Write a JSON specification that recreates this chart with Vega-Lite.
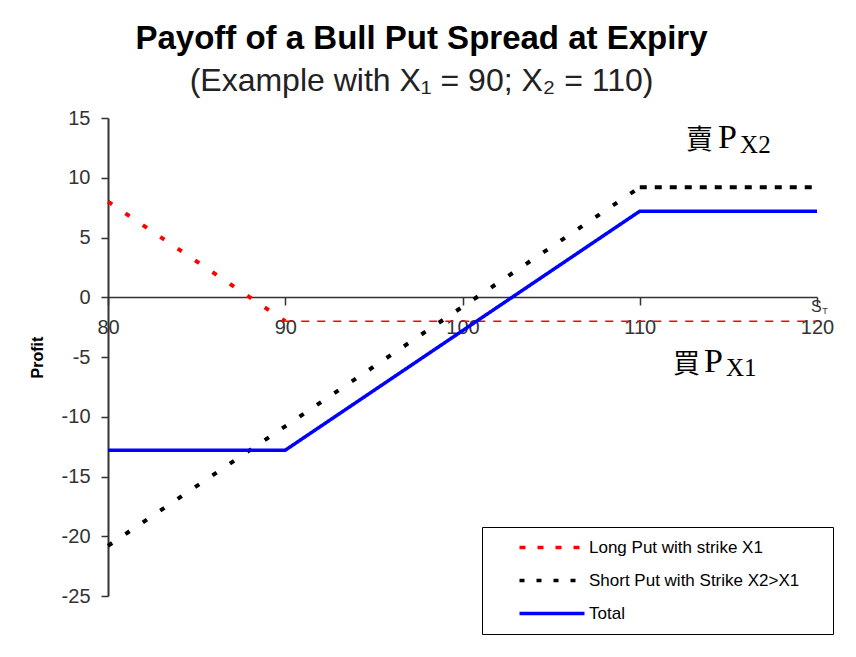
{
  "$schema": "https://vega.github.io/schema/vega-lite/v6.json",
  "autosize": {"type": "none"},
  "width": 709,
  "height": 478,
  "padding": {"left": 108, "top": 118, "right": 39, "bottom": 61},
  "background": "white",
  "config": {"view": {"stroke": null}},
  "title": {
    "text": "Payoff of a Bull Put Spread at Expiry",
    "subtitle": "(Example with X₁ = 90; X₂ = 110)",
    "anchor": "middle",
    "frame": "group",
    "dx": -41,
    "offset": 11,
    "font": "Liberation Sans",
    "fontSize": 33,
    "fontWeight": "bold",
    "color": "black",
    "subtitleFont": "Liberation Sans",
    "subtitleFontSize": 32,
    "subtitleColor": "#222",
    "subtitlePadding": 10
  },
  "data": {
    "values": [
      {"series": "Long Put with strike X1", "seg": "red1", "S": 80, "profit": 8},
      {"series": "Long Put with strike X1", "seg": "red1", "S": 90, "profit": -2},
      {"series": "Long Put with strike X1", "seg": "red2", "S": 90, "profit": -2},
      {"series": "Long Put with strike X1", "seg": "red2", "S": 120, "profit": -2},
      {"series": "Short Put with Strike X2>X1", "seg": "blk1", "S": 80, "profit": -20.8},
      {"series": "Short Put with Strike X2>X1", "seg": "blk1", "S": 110, "profit": 9.2},
      {"series": "Short Put with Strike X2>X1", "seg": "blk2", "S": 110, "profit": 9.2},
      {"series": "Short Put with Strike X2>X1", "seg": "blk2", "S": 120, "profit": 9.2},
      {"series": "Total", "seg": "tot", "S": 80, "profit": -12.8},
      {"series": "Total", "seg": "tot", "S": 90, "profit": -12.8},
      {"series": "Total", "seg": "tot", "S": 110, "profit": 7.2},
      {"series": "Total", "seg": "tot", "S": 120, "profit": 7.2}
    ]
  },
  "encoding": {
    "x": {
      "field": "S", "type": "quantitative",
      "scale": {"domain": [80, 120], "nice": false, "zero": false},
      "axis": {
        "title": null, "values": [80, 90, 100, 110, 120], "grid": false,
        "offset": -299, "domainColor": "#333", "domainWidth": 1.5,
        "tickColor": "#333", "tickWidth": 1.5, "tickSize": 8,
        "labelPadding": 12, "labelFont": "Liberation Sans", "labelFontSize": 20,
        "labelColor": "#333", "labelFlush": false
      }
    },
    "y": {
      "field": "profit", "type": "quantitative",
      "scale": {"domain": [-25, 15], "nice": false, "zero": false},
      "axis": {
        "title": "Profit", "values": [-25, -20, -15, -10, -5, 0, 5, 10, 15], "grid": false,
        "domainColor": "#333", "domainWidth": 2,
        "tickColor": "#333", "tickWidth": 1.5, "tickSize": 7,
        "labelPadding": 11, "labelFont": "Liberation Sans", "labelFontSize": 20,
        "labelColor": "#333",
        "labelExpr": "replace(datum.label, '−', '-')",
        "titleFont": "Liberation Sans", "titleFontSize": 16, "titleFontWeight": "bold",
        "titleColor": "black", "titlePadding": 16
      }
    }
  },
  "layer": [
    {
      "transform": [{"filter": "datum.seg == 'red1'"}],
      "mark": {"type": "line", "color": "#ff0000", "strokeWidth": 4, "strokeDash": [5, 16]}
    },
    {
      "transform": [{"filter": "datum.seg == 'red2'"}],
      "mark": {"type": "line", "color": "#ff0000", "strokeWidth": 1.5, "strokeDash": [8, 8]}
    },
    {
      "transform": [{"filter": "datum.seg == 'blk1'"}],
      "mark": {"type": "line", "color": "black", "strokeWidth": 4, "strokeDash": [5, 16]}
    },
    {
      "transform": [{"filter": "datum.seg == 'blk2'"}],
      "mark": {"type": "line", "color": "black", "strokeWidth": 4, "strokeDash": [7, 8]}
    },
    {
      "transform": [{"filter": "datum.seg == 'tot'"}],
      "mark": {"type": "line", "strokeWidth": 3.5},
      "encoding": {
        "color": {
          "field": "series", "type": "nominal",
          "scale": {
            "domain": ["Long Put with strike X1", "Short Put with Strike X2>X1", "Total"],
            "range": ["#ff0000", "black", "#0000ff"]
          },
          "legend": {
            "title": "\u00a0", "titleOrient": "right", "titlePadding": 22, "titleFontSize": 10,
            "orient": "none", "legendX": 374, "legendY": 409,
            "fillColor": "white", "strokeColor": "black", "padding": 12,
            "symbolType": "M-1,0H12", "symbolSize": 100, "symbolStrokeWidth": 3.5,
            "symbolOffset": 22, "labelOffset": 56, "rowPadding": 15,
            "labelFont": "Liberation Sans", "labelFontSize": 17, "labelColor": "black",
            "labelLimit": 400
          }
        },
        "strokeDash": {
          "field": "series", "type": "nominal",
          "scale": {
            "domain": ["Long Put with strike X1", "Short Put with Strike X2>X1", "Total"],
            "range": [[6, 12], [5, 12], [1, 0]]
          },
          "legend": null
        }
      }
    },
    {
      "data": {"values": [{"label": "賣", "S": 112.61, "profit": 12.4}, {"label": "買", "S": 111.88, "profit": -6.35}]},
      "mark": {"type": "text", "align": "left", "baseline": "alphabetic", "font": "Noto Sans CJK TC", "fontWeight": "normal", "fontSize": 27, "color": "black"},
      "encoding": {"text": {"field": "label"}}
    },
    {
      "data": {"values": [{"label": "P", "S": 114.41, "profit": 12.47}, {"label": "P", "S": 113.63, "profit": -6.28}]},
      "mark": {"type": "text", "align": "left", "baseline": "alphabetic", "font": "Liberation Serif", "fontWeight": "normal", "fontSize": 34, "color": "black"},
      "encoding": {"text": {"field": "label"}}
    },
    {
      "data": {"values": [{"label": "X2", "S": 115.66, "profit": 12.05}, {"label": "X1", "S": 114.87, "profit": -6.61}]},
      "mark": {"type": "text", "align": "left", "baseline": "alphabetic", "font": "Liberation Serif", "fontWeight": "normal", "fontSize": 25, "color": "black"},
      "encoding": {"text": {"field": "label"}}
    },
    {
      "data": {"values": [{"label": "S", "S": 119.66, "profit": -1.26}]},
      "mark": {"type": "text", "align": "left", "baseline": "alphabetic", "font": "Liberation Sans", "fontSize": 16, "color": "#333"},
      "encoding": {"text": {"field": "label"}}
    },
    {
      "data": {"values": [{"label": "T", "S": 120.3, "profit": -1.36}]},
      "mark": {"type": "text", "align": "left", "baseline": "alphabetic", "font": "Liberation Sans", "fontSize": 9, "color": "#333"},
      "encoding": {"text": {"field": "label"}}
    }
  ]
}
